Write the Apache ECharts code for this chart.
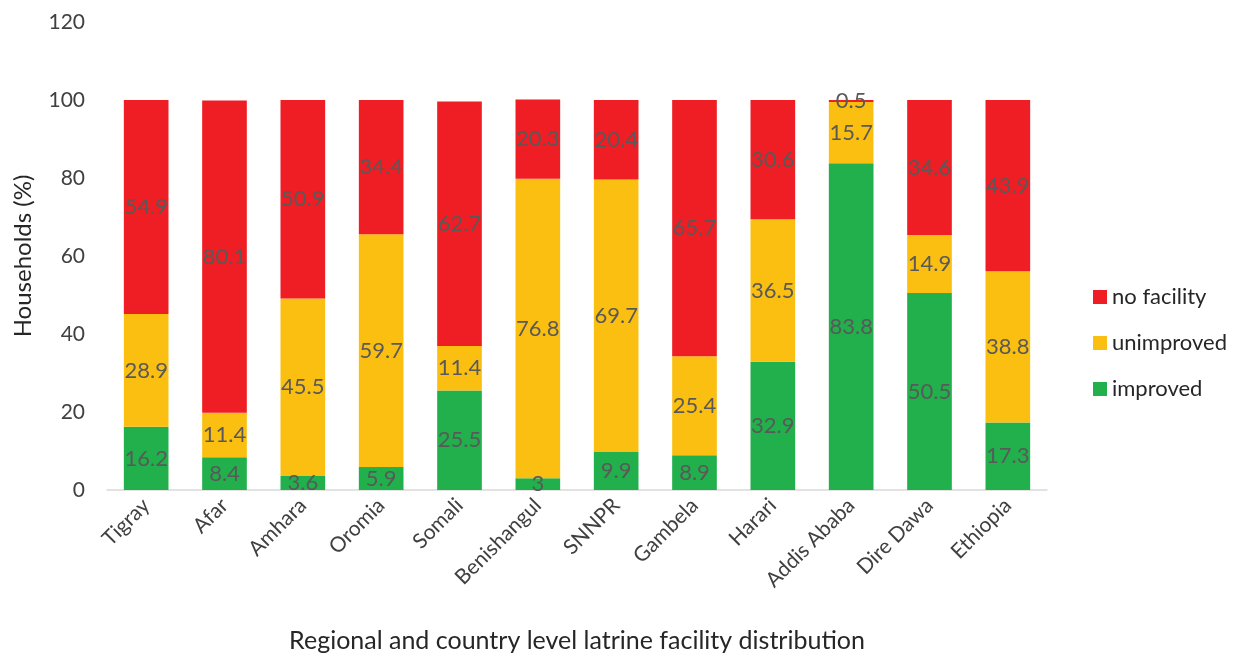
<!DOCTYPE html>
<html lang="en">
<head>
    <meta charset="UTF-8">
    <title>Latrine facility distribution</title>
    <script src="https://cdn.jsdelivr.net/npm/echarts@6/dist/echarts.min.js"></script>
    <style>
        html, body {margin: 0; padding: 0; background: #fff;}
        #main {width: 1239px; height: 657px;}
    </style>
</head>
<body>
<div id="main"></div>
<script>
    var regions = ["Tigray", "Afar", "Amhara", "Oromia", "Somali", "Benishangul", "SNNPR", "Gambela", "Harari", "Addis Ababa", "Dire Dawa", "Ethiopia"];
    var improved = [16.2, 8.4, 3.6, 5.9, 25.5, 3, 9.9, 8.9, 32.9, 83.8, 50.5, 17.3];
    var unimproved = [28.9, 11.4, 45.5, 59.7, 11.4, 76.8, 69.7, 25.4, 36.5, 15.7, 14.9, 38.8];
    var noFacility = [54.9, 80.1, 50.9, 34.4, 62.7, 20.3, 20.4, 65.7, 30.6, 0.5, 34.6, 43.9];
    var yTicks = [0, 20, 40, 60, 80, 100, 120];

    var font = "Lato, 'Open Sans', sans-serif";
    var label = {
        show: true,
        position: "inside",
        color: "#595959",
        fontSize: 22,
        fontFamily: font
    };

    function bar(name, data, color) {
        return {
            name: name,
            type: "bar",
            stack: "total",
            barWidth: "57%",
            data: data,
            itemStyle: {color: color},
            label: label
        };
    }

    var chart = echarts.init(document.getElementById("main"));
    chart.setOption({
        animation: false,
        textStyle: {fontFamily: font},
        grid: {left: 107, right: 192, top: 22, bottom: 167, containLabel: false, outerBoundsMode: "none"},
        legend: {
            orient: "vertical",
            left: 1088,
            top: 281,
            itemWidth: 14,
            itemHeight: 14,
            itemGap: 24,
            icon: "rect",
            textStyle: {fontSize: 22, color: "#262626", fontFamily: font},
            data: ["no facility", "unimproved", "improved"]
        },
        xAxis: {
            type: "category",
            data: regions,
            name: "Regional and country level latrine facility distribution",
            nameLocation: "middle",
            nameGap: 138,
            nameTextStyle: {fontSize: 25, color: "#262626"},
            axisLine: {lineStyle: {color: "#d9d9d9", width: 1.5}},
            axisTick: {show: false},
            axisLabel: {rotate: 45, fontSize: 21, color: "#404040", margin: 12, interval: 0}
        },
        yAxis: {
            type: "value",
            min: yTicks[0],
            max: yTicks[yTicks.length - 1],
            interval: 20,
            name: "Households (%)",
            nameLocation: "middle",
            nameGap: 72,
            nameTextStyle: {fontSize: 24, color: "#262626"},
            splitLine: {show: false},
            axisLine: {show: false},
            axisTick: {show: false},
            axisLabel: {fontSize: 21, color: "#404040", margin: 22}
        },
        series: [
            bar("improved", improved, "#21b04b"),
            bar("unimproved", unimproved, "#fbbf12"),
            bar("no facility", noFacility, "#ee1e24")
        ]
    });
</script>
</body>
</html>
